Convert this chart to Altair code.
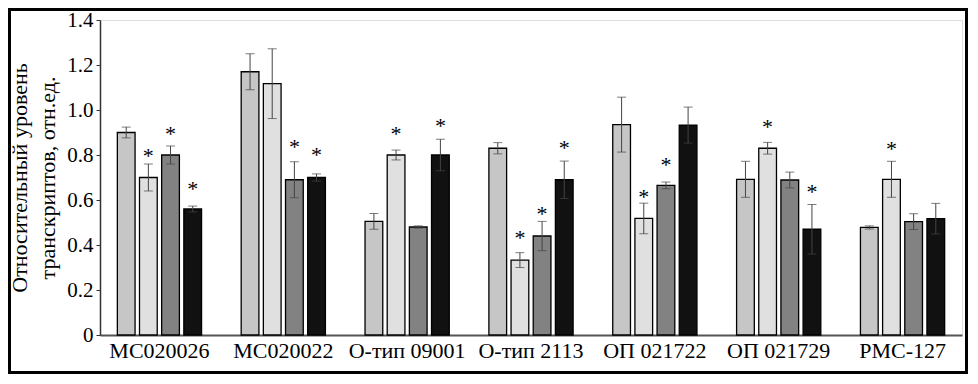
import altair as alt
import pandas as pd

groups = ["МС020026", "МС020022", "О-тип 09001", "О-тип 2113", "ОП 021722", "ОП 021729", "РМС-127"]
series = ["1", "2", "3", "4"]

s1 = [0.90, 1.17, 0.505, 0.83, 0.935, 0.692, 0.478]
e1 = [0.024, 0.08, 0.035, 0.025, 0.122, 0.08, 0.007]
s2 = [0.70, 1.117, 0.80, 0.333, 0.518, 0.83, 0.692]
e2 = [0.06, 0.155, 0.022, 0.033, 0.068, 0.026, 0.08]
s3 = [0.80, 0.69, 0.48, 0.44, 0.665, 0.689, 0.504]
e3 = [0.04, 0.08, 0.005, 0.065, 0.015, 0.035, 0.035]
s4 = [0.56, 0.70, 0.80, 0.69, 0.933, 0.47, 0.517]
e4 = [0.013, 0.016, 0.07, 0.083, 0.08, 0.11, 0.068]

star_groups = ["МС020026", "МС020026", "МС020026", "МС020022", "МС020022",
               "О-тип 09001", "О-тип 09001", "О-тип 2113", "О-тип 2113", "О-тип 2113",
               "ОП 021722", "ОП 021722", "ОП 021729", "ОП 021729", "РМС-127"]
star_series = ["2", "3", "4", "3", "4", "2", "4", "2", "3", "4", "2", "3", "2", "4", "2"]
star_y = [0.809, 0.907, 0.664, 0.849, 0.813, 0.908, 0.942, 0.444, 0.552, 0.844,
          0.627, 0.770, 0.938, 0.650, 0.841]

y_ticks = [0, 0.2, 0.4, 0.6, 0.8, 1.0, 1.2, 1.4]
fills = ["#c6c6c6", "#e0e0e0", "#828282", "#111111"]

rows = []
for s, vals, errs in zip(series, [s1, s2, s3, s4], [e1, e2, e3, e4]):
    for g, v, e in zip(groups, vals, errs):
        rows.append({"group": g, "series": s, "value": v, "lo": v - e, "hi": v + e})
df = pd.DataFrame(rows)
stars = pd.DataFrame({"group": star_groups, "series": star_series, "value": star_y})

FONT = "Liberation Serif"

x_enc = alt.X("group:N", sort=groups,
              scale=alt.Scale(paddingInner=0.32, paddingOuter=0.14),
              axis=alt.Axis(title=None, labelAngle=0, labelFont=FONT, labelFontSize=22,
                            labelColor="black", ticks=False, labelPadding=5,
                            domainColor="#555555", domainWidth=2))
xo_enc = alt.XOffset("series:N", sort=series,
                     scale=alt.Scale(paddingInner=0.2, paddingOuter=0))
y_axis = alt.Axis(values=y_ticks, labelExpr="datum.value == 0 ? '0' : format(datum.value, '.1f')",
                  title=["Относительный уровень", "транскриптов, отн.ед."],
                  titleFont=FONT, titleFontSize=22, titleFontWeight="normal", titleColor="black",
                  titleLineHeight=28, titlePadding=7,
                  labelFont=FONT, labelFontSize=21, labelColor="black", labelPadding=3,
                  tickSize=4, tickColor="#333333", domainColor="#333333", domainWidth=1.5,
                  grid=False)
y_scale = alt.Scale(domain=[0, 1.4], nice=False, zero=True)

bars = alt.Chart(df).mark_bar(stroke="black", strokeWidth=1.3).encode(
    x=x_enc, xOffset=xo_enc,
    y=alt.Y("value:Q", scale=y_scale, axis=y_axis),
    fill=alt.Fill("series:N", scale=alt.Scale(domain=series, range=fills), legend=None),
)

err = alt.Chart(df).mark_rule(color="#444444", strokeWidth=1).encode(
    x=x_enc, xOffset=xo_enc,
    y=alt.Y("lo:Q", scale=y_scale, axis=y_axis), y2="hi:Q",
)
cap_hi = alt.Chart(df).mark_tick(color="#444444", thickness=1, size=9).encode(
    x=x_enc, xOffset=xo_enc, y=alt.Y("hi:Q", scale=y_scale, axis=y_axis),
)
cap_lo = alt.Chart(df).mark_tick(color="#444444", thickness=1, size=9).encode(
    x=x_enc, xOffset=xo_enc, y=alt.Y("lo:Q", scale=y_scale, axis=y_axis),
)

star = alt.Chart(stars).mark_text(text="*", font=FONT, fontSize=22, color="black",
                                  baseline="alphabetic", dy=10).encode(
    x=x_enc, xOffset=xo_enc, y=alt.Y("value:Q", scale=y_scale, axis=y_axis),
)

frame = alt.Chart(alt.Data(values=[{"a": 1}])).mark_rect(
    filled=False, stroke="black", strokeWidth=3).encode(
    x=alt.value(-90.5), x2=alt.value(866.5), y=alt.value(-10.5), y2=alt.value(352.5)
)

chart = alt.layer(bars, err, cap_hi, cap_lo, star, frame).properties(
    width=862, height=315,
    autosize=alt.AutoSizeParams(type="none"),
    padding={"left": 92, "top": 12, "right": 6, "bottom": 39},
).configure_view(stroke=None).configure(background="white")

chart.save("out.html", embed_options={"renderer": "svg", "actions": False})
